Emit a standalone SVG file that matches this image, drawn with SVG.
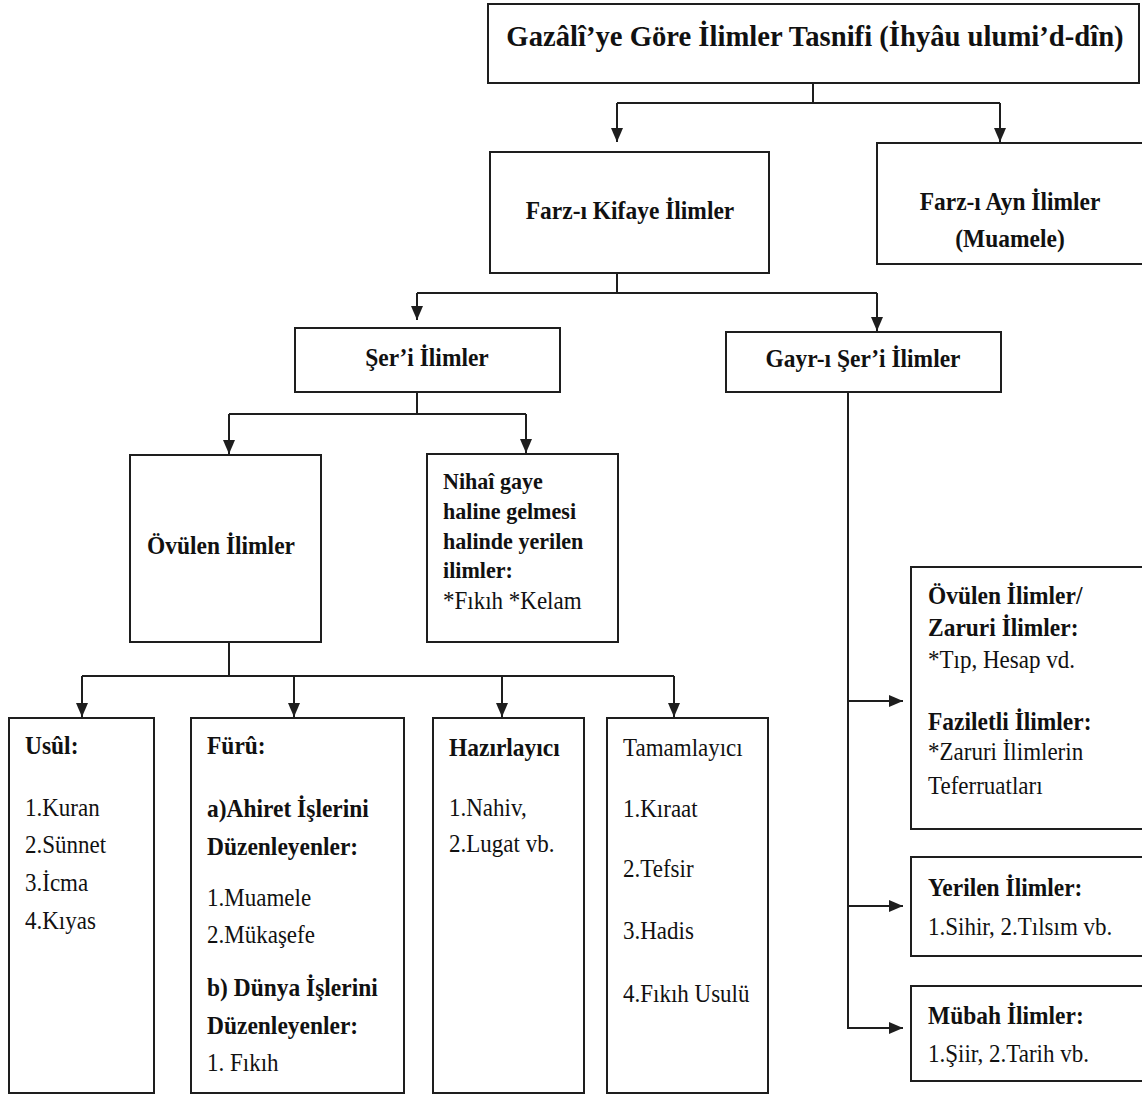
<svg xmlns="http://www.w3.org/2000/svg" width="1142" height="1097" viewBox="0 0 1142 1097">
  <defs>
    <style>
      .box { fill: #ffffff; stroke: #1e1e1e; stroke-width: 2; }
      .conn { fill: none; stroke: #1e1e1e; stroke-width: 2; }
      .t { font-family: "Liberation Serif", "Times New Roman", serif; fill: #111111; }
      .b { font-weight: bold; font-size: 25.5px; }
      .r { font-weight: normal; font-size: 25px; }
      .title { font-weight: bold; font-size: 30px; }
      .nb { font-weight: bold; font-size: 24px; }
      .c { text-anchor: middle; }
    </style>
    <marker id="arrow" markerUnits="userSpaceOnUse" markerWidth="14" markerHeight="12" refX="14" refY="6" orient="auto">
      <path d="M0,0 L14,6 L0,12 z" fill="#1e1e1e"/>
    </marker>
  </defs>

  <rect width="1142" height="1097" fill="#ffffff"/>

  <!-- connectors -->
  <g id="connectors" class="conn">
    <path d="M813,83 V103 M617,103 H1000"/>
    <path d="M617,103 V142" marker-end="url(#arrow)"/>
    <path d="M1000,103 V142" marker-end="url(#arrow)"/>

    <path d="M617,273 V293 M417,293 H877"/>
    <path d="M417,293 V320" marker-end="url(#arrow)"/>
    <path d="M877,293 V331" marker-end="url(#arrow)"/>

    <path d="M417,392 V414 M229,414 H526"/>
    <path d="M229,414 V454" marker-end="url(#arrow)"/>
    <path d="M526,414 V453" marker-end="url(#arrow)"/>

    <path d="M229,642 V676 M82,676 H674"/>
    <path d="M82,676 V717" marker-end="url(#arrow)"/>
    <path d="M294,676 V717" marker-end="url(#arrow)"/>
    <path d="M502,676 V717" marker-end="url(#arrow)"/>
    <path d="M674,676 V717" marker-end="url(#arrow)"/>

    <path d="M848,392 V1028"/>
    <path d="M847,701 H903" marker-end="url(#arrow)"/>
    <path d="M847,906 H903" marker-end="url(#arrow)"/>
    <path d="M847,1028 H903" marker-end="url(#arrow)"/>
  </g>

  <!-- root -->
  <g id="node-root">
    <rect class="box" x="488" y="4" width="651" height="79"/>
    <text class="t title c" transform="translate(815,46) scale(0.955,1)">Gazâlî’ye Göre İlimler Tasnifi (İhyâu ulumi’d-dîn)</text>
  </g>

  <g id="node-farz-kifaye">
    <rect class="box" x="490" y="152" width="279" height="121"/>
    <text class="t b c" transform="translate(630,219) scale(0.92,1)">Farz-ı Kifaye İlimler</text>
  </g>

  <g id="node-farz-ayn">
    <rect class="box" x="877" y="143" width="280" height="121"/>
    <text class="t b c" transform="translate(1010,210) scale(0.92,1)">Farz-ı Ayn İlimler</text>
    <text class="t b c" transform="translate(1010,247) scale(0.92,1)">(Muamele)</text>
  </g>

  <g id="node-seri">
    <rect class="box" x="295" y="328" width="265" height="64"/>
    <text class="t b c" transform="translate(427,366) scale(0.92,1)">Şer’i İlimler</text>
  </g>

  <g id="node-gayri-seri">
    <rect class="box" x="726" y="332" width="275" height="60"/>
    <text class="t b c" transform="translate(863,367) scale(0.92,1)">Gayr-ı Şer’i İlimler</text>
  </g>

  <g id="node-ovulen">
    <rect class="box" x="130" y="455" width="191" height="187"/>
    <text class="t b c" transform="translate(221,554) scale(0.92,1)">Övülen İlimler</text>
  </g>

  <g id="node-nihai">
    <rect class="box" x="427" y="454" width="191" height="188"/>
    <text class="t nb" transform="translate(443,489) scale(0.92,1)">Nihaî gaye</text>
    <text class="t nb" transform="translate(443,519) scale(0.92,1)">haline gelmesi</text>
    <text class="t nb" transform="translate(443,549) scale(0.92,1)">halinde yerilen</text>
    <text class="t nb" transform="translate(443,578) scale(0.92,1)">ilimler:</text>
    <text class="t r" transform="translate(443,609) scale(0.92,1)">*Fıkıh *Kelam</text>
  </g>

  <g id="node-usul">
    <rect class="box" x="9" y="718" width="145" height="375"/>
    <text class="t b" transform="translate(25,754) scale(0.92,1)">Usûl:</text>
    <text class="t r" transform="translate(25,816) scale(0.92,1)">1.Kuran</text>
    <text class="t r" transform="translate(25,853) scale(0.92,1)">2.Sünnet</text>
    <text class="t r" transform="translate(25,891) scale(0.92,1)">3.İcma</text>
    <text class="t r" transform="translate(25,929) scale(0.92,1)">4.Kıyas</text>
  </g>

  <g id="node-furu">
    <rect class="box" x="191" y="718" width="213" height="375"/>
    <text class="t b" transform="translate(207,754) scale(0.92,1)">Fürû:</text>
    <text class="t b" transform="translate(207,817) scale(0.92,1)">a)Ahiret İşlerini</text>
    <text class="t b" transform="translate(207,855) scale(0.92,1)">Düzenleyenler:</text>
    <text class="t r" transform="translate(207,906) scale(0.92,1)">1.Muamele</text>
    <text class="t r" transform="translate(207,943) scale(0.92,1)">2.Mükaşefe</text>
    <text class="t b" transform="translate(207,996) scale(0.92,1)">b) Dünya İşlerini</text>
    <text class="t b" transform="translate(207,1034) scale(0.92,1)">Düzenleyenler:</text>
    <text class="t r" transform="translate(207,1071) scale(0.92,1)">1. Fıkıh</text>
  </g>

  <g id="node-hazirlayici">
    <rect class="box" x="433" y="718" width="151" height="375"/>
    <text class="t b" transform="translate(449,756) scale(0.92,1)">Hazırlayıcı</text>
    <text class="t r" transform="translate(449,816) scale(0.92,1)">1.Nahiv,</text>
    <text class="t r" transform="translate(449,852) scale(0.92,1)">2.Lugat vb.</text>
  </g>

  <g id="node-tamamlayici">
    <rect class="box" x="607" y="718" width="161" height="375"/>
    <text class="t r" transform="translate(623,756) scale(0.92,1)">Tamamlayıcı</text>
    <text class="t r" transform="translate(623,817) scale(0.92,1)">1.Kıraat</text>
    <text class="t r" transform="translate(623,877) scale(0.92,1)">2.Tefsir</text>
    <text class="t r" transform="translate(623,939) scale(0.92,1)">3.Hadis</text>
    <text class="t r" transform="translate(623,1002) scale(0.92,1)">4.Fıkıh Usulü</text>
  </g>

  <g id="node-zaruri">
    <rect class="box" x="911" y="567" width="250" height="262"/>
    <text class="t b" transform="translate(928,604) scale(0.92,1)">Övülen İlimler/</text>
    <text class="t b" transform="translate(928,636) scale(0.92,1)">Zaruri İlimler:</text>
    <text class="t r" transform="translate(928,668) scale(0.92,1)">*Tıp, Hesap vd.</text>
    <text class="t b" transform="translate(928,730) scale(0.92,1)">Faziletli İlimler:</text>
    <text class="t r" transform="translate(928,760) scale(0.92,1)">*Zaruri İlimlerin</text>
    <text class="t r" transform="translate(928,794) scale(0.92,1)">Teferruatları</text>
  </g>

  <g id="node-yerilen">
    <rect class="box" x="911" y="857" width="250" height="99"/>
    <text class="t b" transform="translate(928,896) scale(0.92,1)">Yerilen İlimler:</text>
    <text class="t r" transform="translate(928,935) scale(0.92,1)">1.Sihir, 2.Tılsım vb.</text>
  </g>

  <g id="node-mubah">
    <rect class="box" x="911" y="986" width="250" height="95"/>
    <text class="t b" transform="translate(928,1024) scale(0.92,1)">Mübah İlimler:</text>
    <text class="t r" transform="translate(928,1062) scale(0.92,1)">1.Şiir, 2.Tarih vb.</text>
  </g>
</svg>
